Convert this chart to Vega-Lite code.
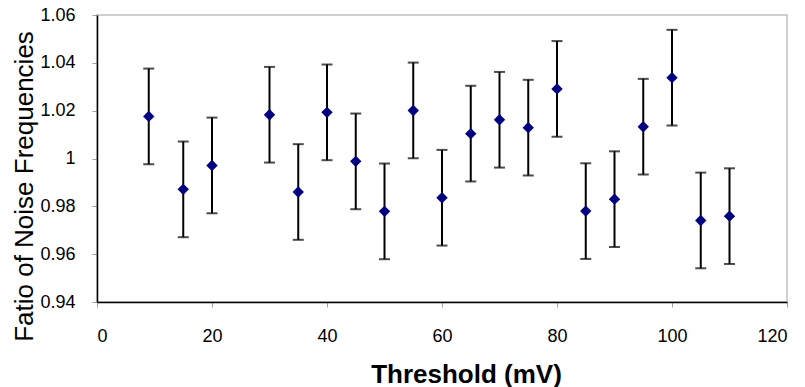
{
  "$schema": "https://vega.github.io/schema/vega-lite/v6.json",
  "width": 690,
  "height": 287,
  "autosize": {"type": "none"},
  "padding": {"left": 97, "top": 15, "right": 18, "bottom": 85},
  "background": "white",
  "config": {
    "font": "Liberation Sans",
    "view": {"stroke": "#c0c0c0", "strokeWidth": 1.5},
    "axis": {"grid": false, "domainColor": "black", "domainWidth": 1.5, "tickColor": "#a0a0a0", "tickSize": 5, "labelColor": "black", "labelFont": "Liberation Sans", "labelFontSize": 18, "titleColor": "black", "titleFont": "Liberation Sans"}
  },
  "data": {
    "values": [
      {"threshold": 9, "ratio": 1.0176, "lo": 0.9976, "hi": 1.0376},
      {"threshold": 15, "ratio": 0.9871, "lo": 0.9671, "hi": 1.0071},
      {"threshold": 20, "ratio": 0.9971, "lo": 0.9771, "hi": 1.0171},
      {"threshold": 30, "ratio": 1.0183, "lo": 0.9983, "hi": 1.0383},
      {"threshold": 35, "ratio": 0.986, "lo": 0.966, "hi": 1.006},
      {"threshold": 40, "ratio": 1.0193, "lo": 0.9993, "hi": 1.0393},
      {"threshold": 45, "ratio": 0.9988, "lo": 0.9788, "hi": 1.0188},
      {"threshold": 50, "ratio": 0.9779, "lo": 0.9579, "hi": 0.9979},
      {"threshold": 55, "ratio": 1.0201, "lo": 1.0001, "hi": 1.0401},
      {"threshold": 60, "ratio": 0.9836, "lo": 0.9636, "hi": 1.0036},
      {"threshold": 65, "ratio": 1.0104, "lo": 0.9904, "hi": 1.0304},
      {"threshold": 70, "ratio": 1.0162, "lo": 0.9962, "hi": 1.0362},
      {"threshold": 75, "ratio": 1.0129, "lo": 0.9929, "hi": 1.0329},
      {"threshold": 80, "ratio": 1.0291, "lo": 1.0091, "hi": 1.0491},
      {"threshold": 85, "ratio": 0.978, "lo": 0.958, "hi": 0.998},
      {"threshold": 90, "ratio": 0.983, "lo": 0.963, "hi": 1.003},
      {"threshold": 95, "ratio": 1.0133, "lo": 0.9933, "hi": 1.0333},
      {"threshold": 100, "ratio": 1.0338, "lo": 1.0138, "hi": 1.0538},
      {"threshold": 105, "ratio": 0.9741, "lo": 0.9541, "hi": 0.9941},
      {"threshold": 110, "ratio": 0.9759, "lo": 0.9559, "hi": 0.9959}
    ]
  },
  "layer": [
    {
      "mark": {"type": "rule", "color": "black", "strokeWidth": 2},
      "encoding": {
        "x": {"field": "threshold", "type": "quantitative", "scale": {"domain": [0, 120], "nice": false},
          "axis": {"values": [0, 20, 40, 60, 80, 100, 120], "labelPadding": 20, "title": "Threshold (mV)", "titleFontSize": 26, "titleFontWeight": "bold", "titleBaseline": "alphabetic", "titleAlign": "center", "titleX": 369, "titleY": 80}},
        "y": {"field": "lo", "type": "quantitative", "scale": {"domain": [0.94, 1.06], "nice": false, "zero": false},
          "axis": {"values": [0.94, 0.96, 0.98, 1, 1.02, 1.04, 1.06], "format": "~g", "labelPadding": 17, "title": "Fatio of Noise Frequencies", "titleFontSize": 26, "titleFontWeight": "normal", "titleBaseline": "alphabetic", "titleAngle": -90, "titleAlign": "center", "titleX": -65, "titleY": 171}},
        "y2": {"field": "hi"}
      }
    },
    {
      "mark": {"type": "tick", "orient": "horizontal", "color": "black", "size": 11, "thickness": 2},
      "encoding": {
        "x": {"field": "threshold", "type": "quantitative"},
        "y": {"field": "lo", "type": "quantitative"}
      }
    },
    {
      "mark": {"type": "tick", "orient": "horizontal", "color": "black", "size": 11, "thickness": 2},
      "encoding": {
        "x": {"field": "threshold", "type": "quantitative"},
        "y": {"field": "hi", "type": "quantitative"}
      }
    },
    {
      "mark": {"type": "point", "shape": "diamond", "filled": true, "color": "#000080", "size": 130, "opacity": 1},
      "encoding": {
        "x": {"field": "threshold", "type": "quantitative"},
        "y": {"field": "ratio", "type": "quantitative"}
      }
    }
  ]
}
